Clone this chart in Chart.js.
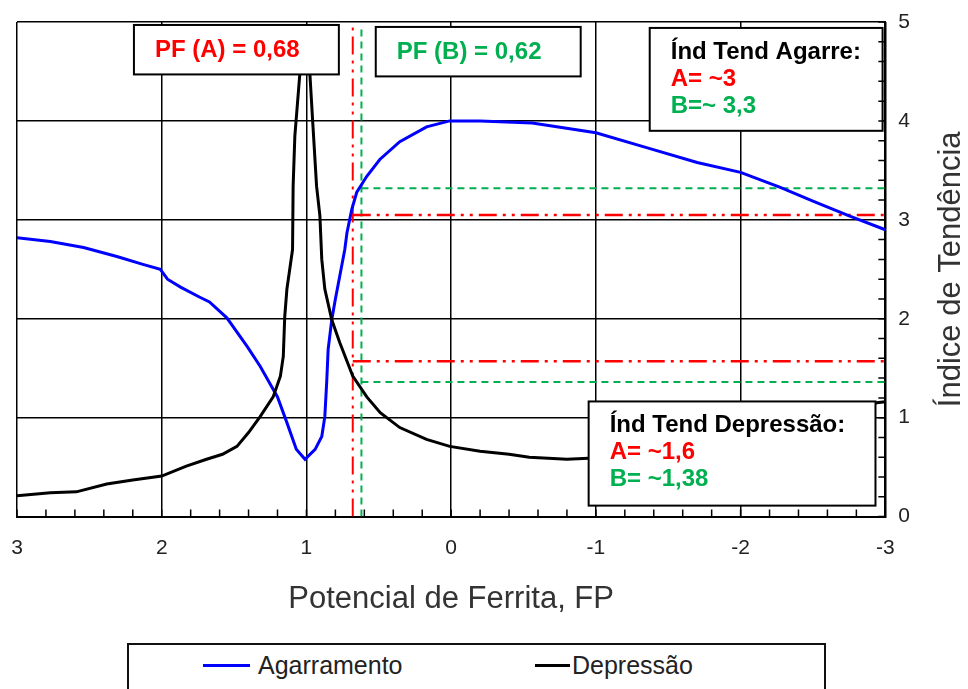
<!DOCTYPE html>
<html>
<head>
<meta charset="utf-8">
<title>Índice de Tendência x Potencial de Ferrita</title>
<script src="https://cdn.jsdelivr.net/npm/chart.js@4.4.0/dist/chart.umd.min.js"></script>
<style>
  body { margin: 0; background: #fff; }
  #wrap { position: relative; width: 968px; height: 689px; overflow: hidden; }
  #legend {
    position: absolute; left: 127px; top: 643px; width: 699px; height: 80px;
    border: 2px solid #111; box-sizing: border-box; background: #fff;
    font: 25px "Liberation Sans", Arial, sans-serif; color: #222;
  }
  #legend .swatch { position: absolute; height: 3px; top: 19px; }
  #legend .label { position: absolute; top: 5px; line-height: 30px; white-space: nowrap; }
</style>
</head>
<body>
<div id="wrap">
  <canvas id="chart" width="968" height="689"></canvas>
  <div id="legend"></div>
</div>
<script>
// ticks dos eixos
const fpTicks = [3, 2, 1, 0, -1, -2, -3];
const indTicks = [0, 1, 2, 3, 4, 5];

// curva Agarramento
const agarramentoFP = [3.00, 2.77, 2.54, 2.31, 2.13, 2.01, 1.96, 1.87, 1.74, 1.67, 1.55, 1.41, 1.32, 1.20,
  1.135, 1.07, 1.01, 0.94, 0.894, 0.873, 0.86, 0.85, 0.825, 0.80, 0.77, 0.735, 0.72, 0.686, 0.652,
  0.583, 0.493, 0.355, 0.17, 0.01, -0.2, -0.56, -1.0, -1.35, -1.70, -2.0, -2.27, -2.50, -2.75, -3.0];
const agarramentoInd = [2.82, 2.78, 2.72, 2.63, 2.55, 2.50, 2.40, 2.32, 2.22, 2.17, 2.01, 1.72, 1.52, 1.21,
  0.95, 0.68, 0.58, 0.68, 0.81, 1.01, 1.36, 1.69, 1.99, 2.20, 2.43, 2.70, 2.87, 3.11, 3.28,
  3.44, 3.61, 3.79, 3.94, 4.00, 4.00, 3.98, 3.88, 3.73, 3.58, 3.48, 3.33, 3.19, 3.04, 2.90];

// curva Depressao
const depressaoFP = [3.00, 2.77, 2.59, 2.38, 2.20, 2.00, 1.83, 1.69, 1.58, 1.48, 1.40, 1.32, 1.23, 1.18,
  1.16, 1.15, 1.135, 1.096, 1.092, 1.08, 1.046, 1.01, 0.976, 0.955, 0.93, 0.907, 0.894, 0.873, 0.825,
  0.77, 0.68, 0.583, 0.49, 0.355, 0.17, 0.01, -0.2, -0.4, -0.54, -0.80, -0.95, -1.5, -2.0, -2.5, -2.8, -2.94, -3.0];
const depressaoInd = [0.21, 0.24, 0.25, 0.33, 0.37, 0.41, 0.51, 0.58, 0.63, 0.71, 0.85, 1.01, 1.21, 1.42,
  1.62, 2.02, 2.30, 2.70, 3.34, 3.85, 4.47, 4.56, 4.47, 3.95, 3.34, 3.04, 2.60, 2.30, 1.99,
  1.76, 1.42, 1.21, 1.05, 0.90, 0.78, 0.71, 0.66, 0.63, 0.60, 0.58, 0.59, 0.62, 0.72, 0.90, 1.07, 1.15, 1.16];

// potenciais de ferrita e indices marcados
const pfA = 0.68;
const pfB = 0.62;
const agarreA = 3.05;
const agarreB = 3.32;
const depressaoA = 1.57;
const depressaoB = 1.36;

const RED = '#ff0000';
const GREEN = '#00b050';
const redDash = [18, 6, 3, 6, 3, 6];
const greenDash = [7, 5];

const toPoints = (xs, ys) => xs.map((x, i) => ({ x: x, y: ys[i] }));
const comma = v => String(v).replace('.', ',');

// caixas de texto (em unidades dos eixos)
const notes = [
  { x0: 2.192, x1: 0.776, y0: 4.97, y1: 4.47, lines: [['PF (A) = ' + comma(pfA), RED]] },
  { x0: 0.521, x1: -0.895, y0: 4.95, y1: 4.45, lines: [['PF (B) = ' + comma(pfB), GREEN]] },
  { x0: -1.372, x1: -2.981, y0: 4.94, y1: 3.90,
    lines: [['Índ Tend Agarre:', '#000'], ['A= ~3', RED], ['B=~ 3,3', GREEN]] },
  { x0: -0.950, x1: -2.932, y0: 1.164, y1: 0.111,
    lines: [['Índ Tend Depressão:', '#000'], ['A= ~1,6', RED], ['B= ~1,38', GREEN]] }
];

Chart.defaults.font.family = '"Liberation Sans", Arial, sans-serif';

// sem margem extra dos rotulos nas bordas da area do grafico
const noEdgePadding = s => { s.paddingLeft = 0; s.paddingRight = 0; s.paddingTop = 0; s.paddingBottom = 0; };

const extras = {
  id: 'extras',
  afterDatasetsDraw(chart) {
    const ctx = chart.ctx;
    const xs = chart.scales.x, ys = chart.scales.y;
    ctx.save();
    notes.forEach(n => {
      const l = Math.min(xs.getPixelForValue(n.x0), xs.getPixelForValue(n.x1));
      const r = Math.max(xs.getPixelForValue(n.x0), xs.getPixelForValue(n.x1));
      const t = ys.getPixelForValue(n.y0), b = ys.getPixelForValue(n.y1);
      ctx.fillStyle = '#fff';
      ctx.fillRect(l, t, r - l, b - t);
      ctx.strokeStyle = '#000';
      ctx.lineWidth = 2;
      ctx.strokeRect(l, t, r - l, b - t);
      ctx.font = 'bold 24px "Liberation Sans", Arial, sans-serif';
      ctx.textBaseline = 'middle';
      ctx.textAlign = 'left';
      n.lines.forEach((ln, i) => {
        ctx.fillStyle = ln[1];
        const y = n.lines.length === 1 ? (t + b) / 2 + 1 : t + 24 + i * 27;
        ctx.fillText(ln[0], l + 21, y);
      });
    });
    ctx.restore();
  },
  afterDraw(chart) {
    const ctx = chart.ctx;
    const area = chart.chartArea;
    const xs = chart.scales.x, ys = chart.scales.y;
    ctx.save();
    // ticks menores para dentro
    ctx.strokeStyle = '#000';
    ctx.lineWidth = 1.5;
    ctx.beginPath();
    for (let i = -15; i <= 15; i++) {
      const px = xs.getPixelForValue(i / 5);
      ctx.moveTo(px, area.bottom);
      ctx.lineTo(px, area.bottom - 7);
    }
    for (let i = 0; i <= 25; i++) {
      const py = ys.getPixelForValue(i / 5);
      ctx.moveTo(area.right, py);
      ctx.lineTo(area.right - 7, py);
    }
    ctx.stroke();
    // titulo do eixo y (lido de baixo para cima)
    ctx.translate(951, (area.top + area.bottom) / 2);
    ctx.rotate(-Math.PI / 2);
    ctx.font = '31px "Liberation Sans", Arial, sans-serif';
    ctx.fillStyle = '#333';
    ctx.textAlign = 'center';
    ctx.textBaseline = 'middle';
    ctx.fillText('Índice de Tendência', 0, 0);
    ctx.restore();
  }
};

const refLine = (pts, color, dash, width) => ({
  data: pts, borderColor: color, borderDash: dash, borderWidth: width,
  pointRadius: 0, showLine: true, fill: false, tension: 0
});

const chart = new Chart(document.getElementById('chart'), {
  type: 'scatter',
  data: {
    datasets: [
      { label: 'Depressão', data: toPoints(depressaoFP, depressaoInd), borderColor: '#000',
        borderWidth: 3, pointRadius: 0, showLine: true, tension: 0 },
      { label: 'Agarramento', data: toPoints(agarramentoFP, agarramentoInd), borderColor: '#0000ff',
        borderWidth: 3, pointRadius: 0, showLine: true, tension: 0 },
      refLine([{ x: pfA, y: 0 }, { x: pfA, y: 4.97 }], RED, redDash, 2),
      refLine([{ x: pfA, y: agarreA }, { x: -3, y: agarreA }], RED, redDash, 2.5),
      refLine([{ x: pfA, y: depressaoA }, { x: -3, y: depressaoA }], RED, redDash, 2.5),
      refLine([{ x: pfB, y: 0 }, { x: pfB, y: 4.97 }], GREEN, greenDash, 2),
      refLine([{ x: pfB, y: agarreB }, { x: -3, y: agarreB }], GREEN, greenDash, 2),
      refLine([{ x: pfB, y: depressaoB }, { x: -3, y: depressaoB }], GREEN, greenDash, 2)
    ]
  },
  options: {
    responsive: false,
    animation: false,
    devicePixelRatio: 1,
    layout: { padding: { left: 17, top: 22, right: 45, bottom: 71 } },
    plugins: { legend: { display: false }, tooltip: { enabled: false } },
    scales: {
      x: {
        type: 'linear', reverse: true, min: -3, max: 3,
        afterBuildTicks: s => { s.ticks = fpTicks.map(v => ({ value: v })); },
        afterFit: noEdgePadding,
        ticks: { padding: 19, color: '#222', font: { size: 21 }, maxRotation: 0, autoSkip: false,
          callback: v => String(v) },
        grid: { color: '#000', lineWidth: 1.5, drawTicks: false },
        border: { color: '#000', width: 2 },
        title: { display: true, text: 'Potencial de Ferrita, FP', color: '#333',
          font: { size: 31 }, padding: { top: 1, bottom: 0 } }
      },
      y: {
        type: 'linear', position: 'right', min: 0, max: 5,
        afterBuildTicks: s => { s.ticks = indTicks.map(v => ({ value: v })); },
        afterFit: noEdgePadding,
        ticks: { padding: 13, color: '#222', font: { size: 21 }, callback: v => String(v) },
        grid: { color: '#000', lineWidth: 1.5, drawTicks: false },
        border: { color: '#000', width: 2 }
      }
    }
  },
  plugins: [extras]
});

// legenda em html, com as cores das series
const legend = document.getElementById('legend');
const legendPos = { 'Agarramento': [74, 47, 129], 'Depressão': [406, 35, 443] };
['Agarramento', 'Depressão'].forEach(name => {
  const ds = chart.data.datasets.find(d => d.label === name);
  const p = legendPos[name];
  const sw = document.createElement('div');
  sw.className = 'swatch';
  sw.style.left = p[0] + 'px';
  sw.style.width = p[1] + 'px';
  sw.style.background = ds.borderColor;
  const tx = document.createElement('div');
  tx.className = 'label';
  tx.style.left = p[2] + 'px';
  tx.textContent = name;
  legend.appendChild(sw);
  legend.appendChild(tx);
});
</script>
</body>
</html>
